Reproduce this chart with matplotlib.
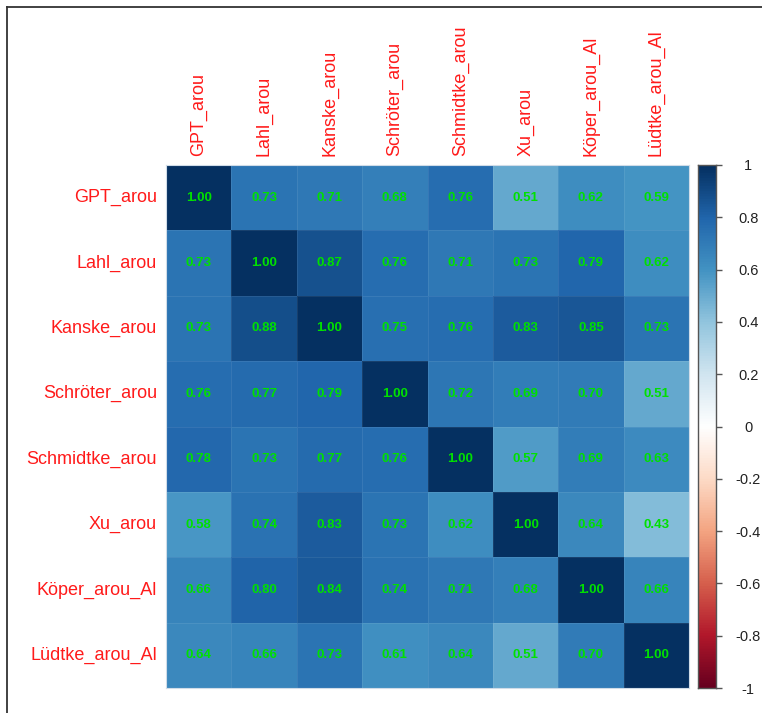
import numpy as np
import matplotlib
matplotlib.use("Agg")
import matplotlib.pyplot as plt
from matplotlib.colors import LinearSegmentedColormap
from matplotlib.lines import Line2D

plt.rcParams['font.family'] = ['Liberation Sans', 'DejaVu Sans']

labels = ["GPT_arou", "Lahl_arou", "Kanske_arou", "Schröter_arou",
          "Schmidtke_arou", "Xu_arou", "Köper_arou_Al", "Lüdtke_arou_Al"]

corr = np.array([
    [1.00, 0.73, 0.71, 0.68, 0.76, 0.51, 0.62, 0.59],
    [0.73, 1.00, 0.87, 0.76, 0.71, 0.73, 0.79, 0.62],
    [0.73, 0.88, 1.00, 0.75, 0.76, 0.83, 0.85, 0.73],
    [0.76, 0.77, 0.79, 1.00, 0.72, 0.69, 0.70, 0.51],
    [0.78, 0.73, 0.77, 0.76, 1.00, 0.57, 0.69, 0.63],
    [0.58, 0.74, 0.83, 0.73, 0.62, 1.00, 0.64, 0.43],
    [0.66, 0.80, 0.84, 0.74, 0.71, 0.68, 1.00, 0.66],
    [0.64, 0.66, 0.73, 0.61, 0.64, 0.51, 0.70, 1.00],
])

cbar_ticks = [1, 0.8, 0.6, 0.4, 0.2, 0, -0.2, -0.4, -0.6, -0.8, -1]
cbar_ticklabels = ["1", "0.8", "0.6", "0.4", "0.2", "0", "-0.2", "-0.4", "-0.6", "-0.8", "-1"]

# Red-blue diverging palette with a pure white midpoint
rdbu = LinearSegmentedColormap.from_list("rdbu_white", [
    "#67001F", "#B2182B", "#D6604D", "#F4A582", "#FDDBC7", "#FFFFFF",
    "#D1E5F0", "#92C5DE", "#4393C3", "#2166AC", "#053061"], N=200)

W, H = 762, 713
fig = plt.figure(figsize=(W / 100, H / 100), dpi=100)

def px_axes(x0, y0, x1, y1):
    return fig.add_axes([x0 / W, 1 - y1 / H, (x1 - x0) / W, (y1 - y0) / H])

n = len(labels)
ax = px_axes(166, 165, 689, 688)
ax.pcolormesh(np.arange(n + 1), np.arange(n + 1), corr, cmap=rdbu, vmin=-1, vmax=1,
              edgecolor=(1, 1, 1, 0.08), linewidth=0.5)
ax.set_xlim(0, n)
ax.set_ylim(n, 0)
for i in range(n):
    for j in range(n):
        ax.text(j + 0.5, i + 0.5, f"{corr[i, j]:.2f}", ha="center", va="center",
                color="#00E000", fontsize=9.5, fontweight="bold")
ax.set_xticks([])
ax.set_yticks([])
for s in ax.spines.values():
    s.set_color("#d0dce8")
    s.set_linewidth(0.8)

for i, lab in enumerate(labels):
    ax.annotate(lab, xy=(0, i + 0.5), xycoords="data", xytext=(-9, 0),
                textcoords="offset pixels", ha="right", va="center",
                color="#FF1A1A", fontsize=13)
    ax.annotate(lab, xy=(i + 0.5, 0), xycoords="data", xytext=(0, 9),
                textcoords="offset pixels", ha="center", va="bottom",
                rotation=90, color="#FF1A1A", fontsize=13)

# Colour legend
cax = px_axes(698, 165, 716, 688)
grad = np.linspace(-1, 1, 400).reshape(-1, 1)
cax.imshow(grad, cmap=rdbu, vmin=-1, vmax=1, aspect="auto", origin="lower",
           extent=[0, 1, -1, 1])
cax.set_xlim(0, 1)
cax.set_ylim(-1, 1)
cax.set_xticks([])
cax.yaxis.tick_right()
cax.set_yticks(cbar_ticks)
cax.set_yticklabels(cbar_ticklabels)
cax.tick_params(axis="y", length=4, width=1, color="#555555", pad=4,
                labelsize=10.5, labelcolor="#222222")
for lbl in cax.get_yticklabels():
    lbl.set_horizontalalignment("center")
    lbl.set_x(1.0 + 21 / 18)
for s in cax.spines.values():
    s.set_color("#555555")
    s.set_linewidth(1.0)

# Outer frame lines on the left and top
fig.add_artist(Line2D([6.5 / W, 6.5 / W], [0, 1 - 6.5 / H], color="#333333", lw=1.3))
fig.add_artist(Line2D([6.5 / W, 1], [1 - 6.5 / H, 1 - 6.5 / H], color="#333333", lw=1.3))

fig.savefig("out.png", dpi=100)
